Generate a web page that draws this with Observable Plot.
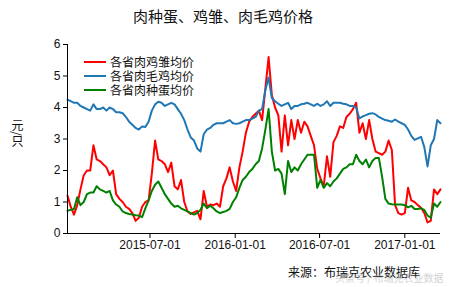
<!DOCTYPE html>
<html><head><meta charset="utf-8">
<script src="https://cdn.jsdelivr.net/npm/d3@7"></script>
<script src="https://cdn.jsdelivr.net/npm/@observablehq/plot@0.6"></script>
<style>
body{margin:0;background:#fff;}
#wrap{position:relative;width:460px;height:287px;overflow:hidden;}
#chart{position:absolute;left:0;top:0;}
.cjk{font-family:"Noto Sans CJK SC","Liberation Sans",sans-serif;color:#111;position:absolute;white-space:nowrap;}
#title{left:0;width:446px;top:8px;text-align:center;font-size:15px;line-height:15px;}
#ylab{left:11px;top:119px;font-size:12px;writing-mode:vertical-rl;line-height:12px;}
#legend{left:84px;top:55px;font-size:12px;}
#legend div{display:flex;align-items:center;height:14px;}
#legend span.sw{display:inline-block;width:22px;height:2px;margin-right:4px;}
#legend span.lt{line-height:12px;display:inline-block;height:12px;}
#caption{left:288px;top:266px;font-size:12px;line-height:12px;}
#wm{left:335px;top:273px;font-size:10px;line-height:10px;color:rgba(170,170,170,0.55);}
</style>
</head><body>
<div id="wrap">
  <div id="chart"></div>
  <div id="title" class="cjk"></div>
  <div id="ylab" class="cjk"></div>
  <div id="legend" class="cjk"></div>
  <div id="caption" class="cjk"></div>
  <div id="wm" class="cjk"></div>
</div>
<script>
const titleText = "肉种蛋、鸡雏、肉毛鸡价格";
const yLabel = "元/只";
const captionText = "来源：布瑞克农业数据库";
const watermark = "头条号 / 布瑞克农业数据";
const seriesNames = ["各省肉鸡雏均价", "各省肉毛鸡均价", "各省肉种蛋均价"];
const seriesColors = ["#ff0000", "#1f77b4", "#008000"];
const startDate = "2015-01-04"; // weekly observations
const xTicks = ["2015-07-01", "2016-01-01", "2016-07-01", "2017-01-01"];
const yTicks = [0, 1, 2, 3, 4, 5, 6];

// 各省肉鸡雏均价 (red)
const chick = [1.2,0.85,0.6,0.9,1.4,1.85,2.0,2.0,2.8,2.35,
2.3,2.2,2.1,1.85,2.0,1.25,1.1,1.0,0.85,0.78,
0.65,0.4,0.5,0.85,1.0,1.05,1.9,2.95,2.35,2.3,
2.2,1.95,2.25,1.5,1.4,1.7,1.0,0.7,0.62,0.67,
0.72,0.45,1.35,0.85,0.92,0.9,0.95,0.85,1.5,1.75,
2.1,1.65,1.35,2.1,2.6,3.2,3.55,3.7,3.8,3.9,
3.6,4.6,5.6,4.4,4.0,3.75,2.6,3.75,2.8,3.6,
3.0,3.6,3.2,3.55,3.4,3.1,2.8,2.05,1.75,1.5,
2.45,1.8,2.9,3.1,3.4,3.35,3.7,3.8,3.95,4.15,
3.2,3.5,3.0,3.6,3.0,2.6,2.55,2.5,2.6,2.95,
2.65,0.9,0.65,0.6,0.65,1.45,1.05,1.0,0.9,0.82,
0.65,0.35,0.4,1.4,1.25,1.4];

// 各省肉毛鸡均价 (blue)
const broiler = [4.25,4.2,4.15,4.15,4.05,4.0,3.95,3.9,4.1,3.95,
3.95,4.0,3.9,4.0,3.95,3.85,3.85,3.82,3.7,3.55,
3.45,3.35,3.3,3.4,3.38,3.55,3.9,4.1,4.18,4.15,
4.05,4.1,4.15,4.1,3.95,3.8,3.6,3.3,3.05,2.95,
2.7,2.6,3.15,3.3,3.35,3.45,3.5,3.5,3.5,3.55,
3.6,3.5,3.48,3.5,3.55,3.6,3.6,3.65,3.7,3.9,
3.95,4.55,4.95,4.3,4.2,4.12,4.05,4.1,4.15,3.95,
4.05,4.05,4.1,4.12,4.15,4.1,4.05,4.12,4.05,4.1,
4.2,4.05,4.15,4.15,4.15,4.12,4.1,4.05,4.05,4.0,
3.65,3.72,3.76,3.8,3.82,3.78,3.7,3.65,3.6,3.58,
3.55,3.62,3.55,3.5,3.45,3.3,3.1,2.97,3.02,3.07,
2.75,2.13,2.8,3.0,3.6,3.5];

// 各省肉种蛋均价 (green)
const egg = [0.72,0.75,0.78,1.15,0.9,1.0,1.25,1.3,1.3,1.5,
1.4,1.35,1.3,1.35,1.05,0.92,0.85,0.7,0.65,0.62,
0.6,0.58,0.57,0.52,0.8,1.05,1.35,1.55,1.65,1.45,
1.25,1.1,0.95,0.85,0.88,0.8,0.75,0.7,0.65,0.6,
0.65,0.75,0.95,0.8,0.88,0.8,0.7,0.65,0.68,0.72,
0.78,1.0,1.15,1.45,1.7,1.8,1.95,2.05,2.2,2.3,
2.7,3.3,3.95,2.6,2.0,2.05,1.9,1.25,2.3,1.95,
2.1,2.0,2.2,2.35,2.5,2.5,2.5,1.45,1.7,1.45,
1.6,1.5,1.65,1.75,1.9,2.05,2.1,2.2,2.2,2.5,
2.3,2.2,2.35,2.1,2.3,2.4,2.4,1.8,1.1,0.95,
0.93,0.92,0.92,0.92,0.9,0.83,0.88,0.78,0.78,0.8,
0.75,0.57,0.5,0.95,0.85,1.0];

const seriesValues = [chick, broiler, egg];
const t0 = new Date(startDate);
const data = [];
seriesValues.forEach((vals, si) => {
  vals.forEach((v, i) => data.push({date: d3.utcDay.offset(t0, 7 * i), value: v, series: seriesNames[si]}));
});
const lastDate = d3.utcDay.offset(t0, 7 * (chick.length - 1));

const chart = Plot.plot({
  width: 460,
  height: 287,
  marginLeft: 67,
  marginRight: 20,
  marginTop: 44,
  marginBottom: 54,
  style: {fontFamily: "'Liberation Sans', Arial, sans-serif", fontSize: "12px", color: "#111", background: "#fff"},
  x: {type: "utc", domain: [t0, lastDate]},
  y: {domain: [0, 6]},
  color: {domain: seriesNames, range: seriesColors},
  marks: [
    Plot.line(data, {x: "date", y: "value", z: "series", stroke: "series", strokeWidth: 2, strokeLinejoin: "round"}),
    Plot.ruleY([0], {stroke: "#000", strokeWidth: 1}),
    Plot.ruleX([t0], {stroke: "#000", strokeWidth: 1}),
    Plot.axisX(xTicks.map(d => new Date(d)), {tickSize: 5, tickPadding: 2, tickFormat: d3.utcFormat("%Y-%m-%d"), label: null, stroke: "#000", fontSize: 12}),
    Plot.axisY(yTicks, {tickSize: 4, tickPadding: 3, label: null, stroke: "#000", fontSize: 12})
  ]
});
document.getElementById("chart").appendChild(chart);
document.getElementById("title").textContent = titleText;
document.getElementById("ylab").textContent = yLabel;
document.getElementById("caption").textContent = captionText;
document.getElementById("wm").textContent = watermark;
const leg = document.getElementById("legend");
seriesNames.forEach((n, i) => {
  const row = document.createElement("div");
  const sw = document.createElement("span");
  sw.className = "sw";
  sw.style.background = seriesColors[i];
  const lt = document.createElement("span");
  lt.className = "lt";
  lt.textContent = n;
  row.appendChild(sw);
  row.appendChild(lt);
  leg.appendChild(row);
});
</script>
</body></html>
